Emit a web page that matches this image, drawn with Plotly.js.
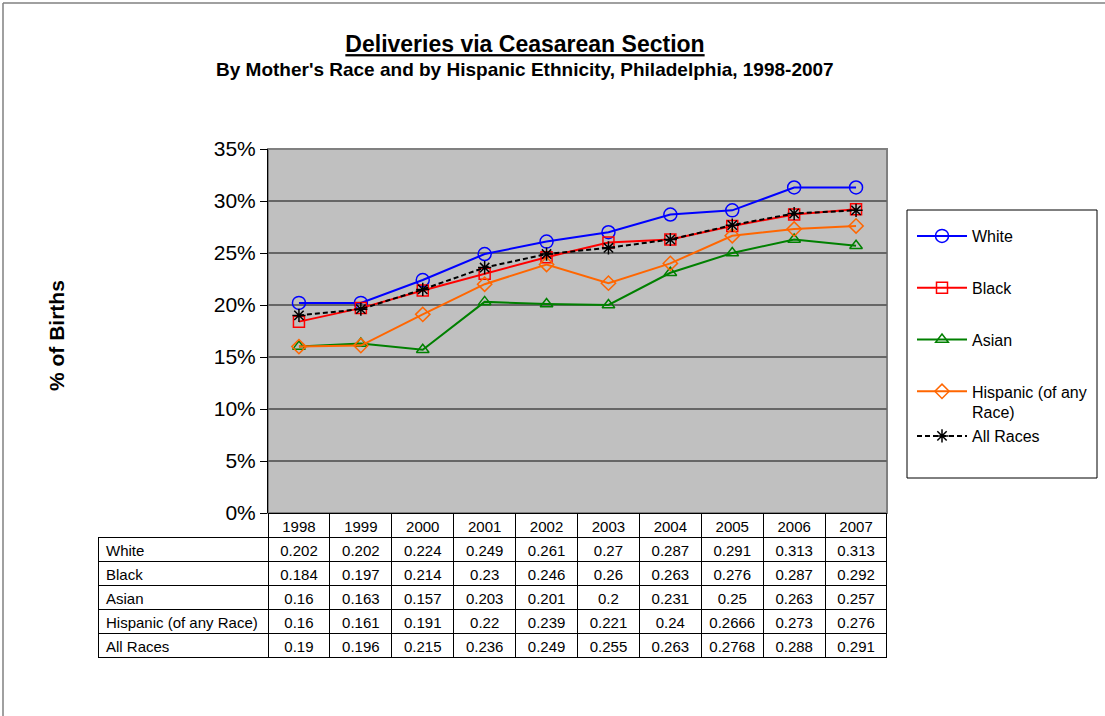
<!DOCTYPE html>
<html>
<head>
<meta charset="utf-8">
<script src="https://cdn.plot.ly/plotly-3.0.1.min.js"></script>
<style>
  html, body { margin: 0; padding: 0; background: #ffffff; }
  #chart { width: 1105px; height: 716px; }
</style>
</head>
<body>
<div id="chart"></div>
<script>
// ---- data ----
var years = ['1998', '1999', '2000', '2001', '2002', '2003', '2004', '2005', '2006', '2007'];
var seriesNames = ['White', 'Black', 'Asian', 'Hispanic (of any Race)', 'All Races'];
var legendNames = ['White', 'Black', 'Asian', 'Hispanic (of any<br>Race)', 'All Races'];
var white    = [0.202, 0.202, 0.224, 0.249, 0.261, 0.27, 0.287, 0.291, 0.313, 0.313];
var black    = [0.184, 0.197, 0.214, 0.23, 0.246, 0.26, 0.263, 0.276, 0.287, 0.292];
var asian    = [0.16, 0.163, 0.157, 0.203, 0.201, 0.2, 0.231, 0.25, 0.263, 0.257];
var hispanic = [0.16, 0.161, 0.191, 0.22, 0.239, 0.221, 0.24, 0.2666, 0.273, 0.276];
var allRaces = [0.19, 0.196, 0.215, 0.236, 0.249, 0.255, 0.263, 0.2768, 0.288, 0.291];

// ---- styles ----
var FONT = 'Liberation Sans, Arial, Helvetica, sans-serif';
var W = 1105, H = 716;
function px(x) { return x / W; }
function py(y) { return 1 - y / H; }

var seriesData = [white, black, asian, hispanic, allRaces];
var colors = ['#0000FF', '#FF0000', '#008000', '#FF6600', '#000000'];
var symbols = ['circle-open', 'square-open', 'triangle-up-open', 'diamond-open', 'asterisk-open'];
var sizes = [13, 11, 11, 11, 11];
var dashes = ['solid', 'solid', 'solid', 'solid', '5px,3px'];
var groups = ['g1', 'g2', 'g3', 'g4', 'g4'];

var traces = [];
for (var i = 0; i < seriesData.length; i++) {
  traces.push({
    type: 'scatter',
    mode: 'lines+markers',
    x: years,
    y: seriesData[i],
    name: legendNames[i],
    legendgroup: groups[i],
    line: { color: colors[i], width: 2, dash: dashes[i] },
    marker: { symbol: symbols[i], size: sizes[i], color: colors[i], line: { width: 1.5, color: colors[i] } },
    hoverinfo: 'x+y+name'
  });
}

// data table (row labels use no-break spaces so they stay on one line)
var rowLabels = seriesNames.map(function (s) { return s.replace(/ /g, '\u00a0'); });
var tableCols = [rowLabels];
for (var j = 0; j < years.length; j++) {
  var col = [];
  for (var k = 0; k < seriesData.length; k++) col.push(String(seriesData[k][j]));
  tableCols.push(col);
}
var headerVals = [''].concat(years);
var headerLineColors = ['rgba(0,0,0,0)'];
var headerFills = ['rgba(0,0,0,0)'];
var colWidths = [170];
var aligns = ['left'];
for (var m = 0; m < years.length; m++) {
  headerLineColors.push('#000000');
  headerFills.push('#ffffff');
  colWidths.push(61.9);
  aligns.push('center');
}

traces.push({
  type: 'table',
  domain: { x: [px(98), px(887)], y: [py(664), py(513)] },
  columnwidth: colWidths,
  header: {
    values: headerVals,
    height: 24,
    align: 'center',
    fill: { color: headerFills },
    line: { color: headerLineColors, width: 1 },
    font: { family: FONT, size: 15, color: '#000000' }
  },
  cells: {
    values: tableCols,
    height: 24,
    align: aligns,
    fill: { color: '#ffffff' },
    line: { color: '#000000', width: 1 },
    font: { family: FONT, size: 15, color: '#000000' }
  }
});

var layout = {
  width: W,
  height: H,
  margin: { l: 0, r: 0, t: 0, b: 0, pad: 0 },
  paper_bgcolor: '#ffffff',
  plot_bgcolor: '#C0C0C0',
  font: { family: FONT, color: '#000000' },
  showlegend: true,
  title: {
    text: 'Deliveries via Ceasarean Section',
    font: { family: FONT, size: 23, weight: 'bold', color: '#000000', lineposition: 'under' },
    x: px(525), xanchor: 'center', xref: 'container',
    y: py(36), yanchor: 'top', yref: 'container'
  },
  xaxis: {
    domain: [px(268), px(887)],
    type: 'category',
    range: [-0.5, 9.5],
    showticklabels: false,
    showgrid: false,
    zeroline: false,
    showline: false,
    ticks: '',
    fixedrange: true
  },
  yaxis: {
    domain: [py(513), py(149)],
    range: [0, 0.35],
    dtick: 0.05,
    tick0: 0,
    tickformat: '.0%',
    ticks: 'outside',
    ticklen: 7,
    tickwidth: 1,
    tickcolor: '#000000',
    showline: true,
    linecolor: '#000000',
    linewidth: 1,
    showgrid: true,
    gridcolor: '#666666',
    gridwidth: 2,
    zeroline: false,
    tickfont: { family: FONT, size: 21, color: '#000000' },
    fixedrange: true
  },
  legend: {
    x: px(912), xanchor: 'left',
    y: py(219), yanchor: 'top',
    bgcolor: 'rgba(0,0,0,0)',
    borderwidth: 0,
    font: { family: FONT, size: 16, color: '#000000' },
    tracegroupgap: 28,
    valign: 'top',
    itemwidth: 50
  },
  annotations: [
    {
      text: "By Mother's Race and by Hispanic Ethnicity, Philadelphia, 1998-2007",
      xref: 'paper', yref: 'paper',
      x: px(525), y: py(70),
      xanchor: 'center', yanchor: 'middle',
      showarrow: false,
      font: { family: FONT, size: 19, weight: 'bold', color: '#000000' }
    },
    {
      text: '% of Births',
      textangle: -90,
      xref: 'paper', yref: 'paper',
      x: px(57), y: py(336),
      xanchor: 'center', yanchor: 'middle',
      showarrow: false,
      font: { family: FONT, size: 21, weight: 'bold', color: '#000000' }
    }
  ],
  shapes: [
    // outer frame (top and left edges)
    { type: 'line', xref: 'paper', yref: 'paper', x0: px(3), x1: 1, y0: py(3), y1: py(3), line: { color: '#808080', width: 1.5 } },
    { type: 'line', xref: 'paper', yref: 'paper', x0: px(3), x1: px(3), y0: py(3), y1: 0, line: { color: '#808080', width: 1.5 } },
    // plot area border
    { type: 'rect', xref: 'x domain', yref: 'y domain', x0: 0, x1: 1, y0: 0, y1: 1, line: { color: '#808080', width: 2 }, layer: 'below' },
    // legend box
    { type: 'rect', xref: 'paper', yref: 'paper', x0: px(907), x1: px(1097), y0: py(478), y1: py(210), line: { color: '#000000', width: 1 }, fillcolor: '#ffffff', layer: 'below' }
  ]
};

Plotly.newPlot('chart', traces, layout, { displayModeBar: false, staticPlot: true });
</script>
</body>
</html>
